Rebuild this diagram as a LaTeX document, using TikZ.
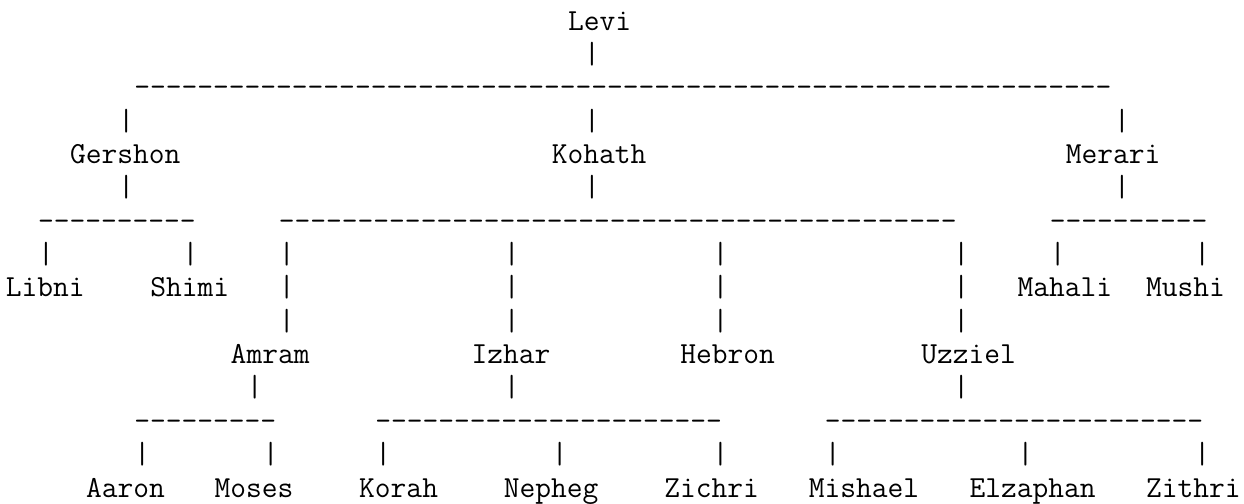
\documentclass[tikz,border=0pt]{standalone}
\usepackage{tikz}

\newcommand{\treefont}{\ttfamily\fontsize{15.3pt}{18pt}\selectfont}
\newcommand{\dashrun}[1]{\foreach \i in {1,...,#1}{-}}

\tikzset{
    person/.style={anchor=base west, inner sep=0pt, font=\treefont},
    link/.style={anchor=base west, inner sep=0pt, font=\treefont}
}

\begin{document}
\begin{tikzpicture}[x=8.03pt, y=-16.68pt]
    \useasboundingbox (-2.75pt,15pt) rectangle (619.25pt,-237pt);

    % Nodes {Levi, sons, grandsons, etc}
    \node [person]  (levi)      at (35,0)   {Levi};
    \node [person]  (gershon)   at (4,4)    {Gershon};
    \node [person]  (kohath)    at (34,4)   {Kohath};
    \node [person]  (merari)    at (66,4)   {Merari};
    \node [person]  (libni)     at (0,8)    {Libni};
    \node [person]  (shimi)     at (9,8)    {Shimi};
    \node [person]  (mahali)    at (63,8)   {Mahali};
    \node [person]  (mushi)     at (71,8)   {Mushi};
    \node [person]  (amram)     at (14,10)  {Amram};
    \node [person]  (izhar)     at (29,10)  {Izhar};
    \node [person]  (hebron)    at (42,10)  {Hebron};
    \node [person]  (uzziel)    at (57,10)  {Uzziel};
    \node [person]  (aaron)     at (5,14)   {Aaron};
    \node [person]  (moses)     at (13,14)  {Moses};
    \node [person]  (korah)     at (22,14)  {Korah};
    \node [person]  (nepheg)    at (31,14)  {Nepheg};
    \node [person]  (zichri)    at (41,14)  {Zichri};
    \node [person]  (mishael)   at (50,14)  {Mishael};
    \node [person]  (elzaphan)  at (60,14)  {Elzaphan};
    \node [person]  (zithri)    at (71,14)  {Zithri};

    % Links (bars and dashes)
    \node [link]    (v1)        at (36,1)   {|};
    \node [link]    (h2)        at (8,2)    {\dashrun{62}};
    \node [link]    (v3a)       at (7,3)    {|};
    \node [link]    (v3b)       at (36,3)   {|};
    \node [link]    (v3c)       at (69,3)   {|};
    \node [link]    (v5a)       at (7,5)    {|};
    \node [link]    (v5b)       at (36,5)   {|};
    \node [link]    (v5c)       at (69,5)   {|};
    \node [link]    (h6a)       at (2,6)    {\dashrun{10}};
    \node [link]    (h6b)       at (17,6)   {\dashrun{43}};
    \node [link]    (h6c)       at (65,6)   {\dashrun{10}};
    \node [link]    (v7a)       at (2,7)    {|};
    \node [link]    (v7b)       at (11,7)   {|};
    \node [link]    (v7c)       at (17,7)   {|};
    \node [link]    (v7d)       at (31,7)   {|};
    \node [link]    (v7e)       at (44,7)   {|};
    \node [link]    (v7f)       at (59,7)   {|};
    \node [link]    (v7g)       at (65,7)   {|};
    \node [link]    (v7h)       at (74,7)   {|};
    \node [link]    (v8a)       at (17,8)   {|};
    \node [link]    (v8b)       at (31,8)   {|};
    \node [link]    (v8c)       at (44,8)   {|};
    \node [link]    (v8d)       at (59,8)   {|};
    \node [link]    (v9a)       at (17,9)   {|};
    \node [link]    (v9b)       at (31,9)   {|};
    \node [link]    (v9c)       at (44,9)   {|};
    \node [link]    (v9d)       at (59,9)   {|};
    \node [link]    (v11a)      at (15,11)  {|};
    \node [link]    (v11b)      at (31,11)  {|};
    \node [link]    (v11c)      at (59,11)  {|};
    \node [link]    (h12a)      at (8,12)   {\dashrun{9}};
    \node [link]    (h12b)      at (23,12)  {\dashrun{22}};
    \node [link]    (h12c)      at (51,12)  {\dashrun{24}};
    \node [link]    (v13a)      at (8,13)   {|};
    \node [link]    (v13b)      at (16,13)  {|};
    \node [link]    (v13c)      at (23,13)  {|};
    \node [link]    (v13d)      at (34,13)  {|};
    \node [link]    (v13e)      at (44,13)  {|};
    \node [link]    (v13f)      at (51,13)  {|};
    \node [link]    (v13g)      at (63,13)  {|};
    \node [link]    (v13h)      at (74,13)  {|};

\end{tikzpicture}
\end{document}
